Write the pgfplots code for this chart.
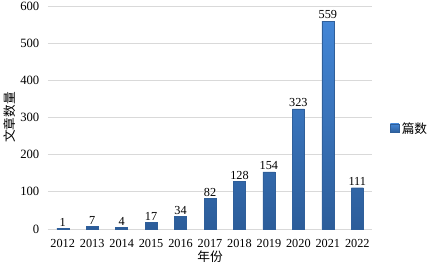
\documentclass[border=0pt]{standalone}
\usepackage{pgfplots}
\pgfplotsset{compat=1.18}
\usepackage{fontspec}
\setmainfont{Liberation Serif}
\newfontfamily\cjk{Noto Sans CJK SC}
\definecolor{bartop}{HTML}{4386D6}
\definecolor{barbot}{HTML}{2C5D9A}
\definecolor{bardraw}{HTML}{2F5F9A}
\definecolor{gridc}{HTML}{D9D9D9}
\begin{document}
\begin{tikzpicture}
\useasboundingbox (0,0) rectangle (321pt,198pt);
\begin{axis}[
  at={(36pt,26.25pt)}, anchor=south west,
  scale only axis, width=243pt, height=167.25pt,
  xmin=-0.5, xmax=10.5, ymin=0, ymax=600,
  ytick={0,100,...,600},
  xtick={0,...,10},
  xticklabels={2012,2013,2014,2015,2016,2017,2018,2019,2020,2021,2022},
  axis line style={draw=none},
  major tick length=0pt,
  ymajorgrids, grid style={gridc, line width=0.6pt},
  yticklabel style={xshift=-3pt, font=\fontsize{9.5}{11}\selectfont},
  xticklabel style={yshift=-4pt, font=\fontsize{9.2}{11}\selectfont},
  /pgf/number format/assume math mode=true,
  ylabel={\cjk 文章数量},
  xlabel={\cjk 年份},
  every axis y label/.style={at={(rel axis cs:0,0.5)}, xshift=-28.5pt, rotate=90, anchor=center, font=\fontsize{9.5}{10}\selectfont},
  every axis x label/.style={at={(rel axis cs:0.5,0)}, yshift=-20.5pt, anchor=center, font=\fontsize{9.5}{10}\selectfont},
  legend style={at={(1.055,0.45)}, anchor=west, draw=none, fill=none, font=\fontsize{9.5}{10}\selectfont\cjk, inner sep=0pt},
  legend image code/.code={\fill[fill=bartop!80!barbot] (0pt,-3pt) rectangle (6.5pt,3.5pt);},
  nodes near coords,
  every node near coord/.append style={font=\fontsize{9.2}{11}\selectfont, inner sep=1.5pt},
  point meta=explicit symbolic,
]
\addplot[ybar, bar width=9pt, draw=bardraw, line width=0.3pt, top color=bartop, bottom color=barbot]
  coordinates {
    (0,1) [1] (1,7) [7] (2,4) [4] (3,17) [17] (4,34) [34] (5,82) [82]
    (6,128) [128] (7,154) [154] (8,323) [323] (9,559) [559] (10,111) [111]
  };
\addlegendentry{篇数}
\end{axis}
\end{tikzpicture}
\end{document}
